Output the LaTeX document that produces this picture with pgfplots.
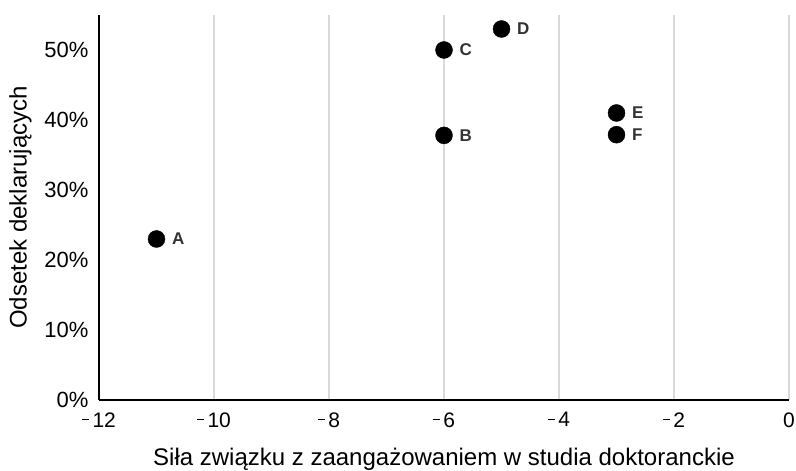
\documentclass[border=0pt]{standalone}
\usepackage{fontspec}
\setmainfont{Liberation Sans}
\usepackage{pgfplots}
\pgfplotsset{compat=1.18}
\usepackage{pgfplotstable}

\definecolor{gridgray}{HTML}{D9D9D9}
\definecolor{lblgray}{HTML}{333333}
% short minus as in the reference
\newcommand\mn{\rule[0.32em]{0.34em}{0.07em}\hspace{0.16em}}

\pgfplotstableread{
x y lbl
-11 23.0 A
-6 37.8 B
-6 50.0 C
-5 53.0 D
-3 41.0 E
-3 37.9 F
}\points

\begin{document}
\begin{tikzpicture}
\path[use as bounding box] (0,0) rectangle (796pt,471pt);
\begin{axis}[
    at={(99pt,71pt)}, anchor=south west,
    scale only axis,
    width=690pt, height=385pt,
    xmin=-12, xmax=0, ymin=0, ymax=55,
    axis x line=bottom, axis y line=left,
    axis line style={-, line width=2.5pt, black},
    xtick={-12,-10,...,0},
    xticklabels={\mn12,\mn10,\mn8,\mn6,\mn4,\mn2,0},
    ytick={0,10,...,50},
    yticklabel={\pgfmathprintnumber{\tick}\%},
    /pgf/number format/assume math mode=true,
    major tick length=0pt,
    xmajorgrids, ymajorgrids=false,
    major grid style={gridgray, line width=2pt},
    xticklabel style={font=\fontsize{21}{25}\selectfont, yshift=-9pt},
    yticklabel style={font=\fontsize{22}{26}\selectfont, xshift=-7pt},
    label style={font=\fontsize{24}{29}\selectfont},
    xlabel={Siła związku z zaangażowaniem w studia doktoranckie},
    ylabel={Odsetek deklarujących},
    xlabel style={yshift=-14pt},
    ylabel style={yshift=6pt},
    clip=false,
]
\addplot[only marks, mark=*, mark size=8.5pt, black,
    point meta=explicit symbolic,
    nodes near coords,
    nodes near coords style={anchor=west, xshift=12pt, text=lblgray,
        font=\fontsize{17}{20}\selectfont\bfseries},
] table[x=x, y=y, meta=lbl] {\points};
\end{axis}
\end{tikzpicture}
\end{document}
